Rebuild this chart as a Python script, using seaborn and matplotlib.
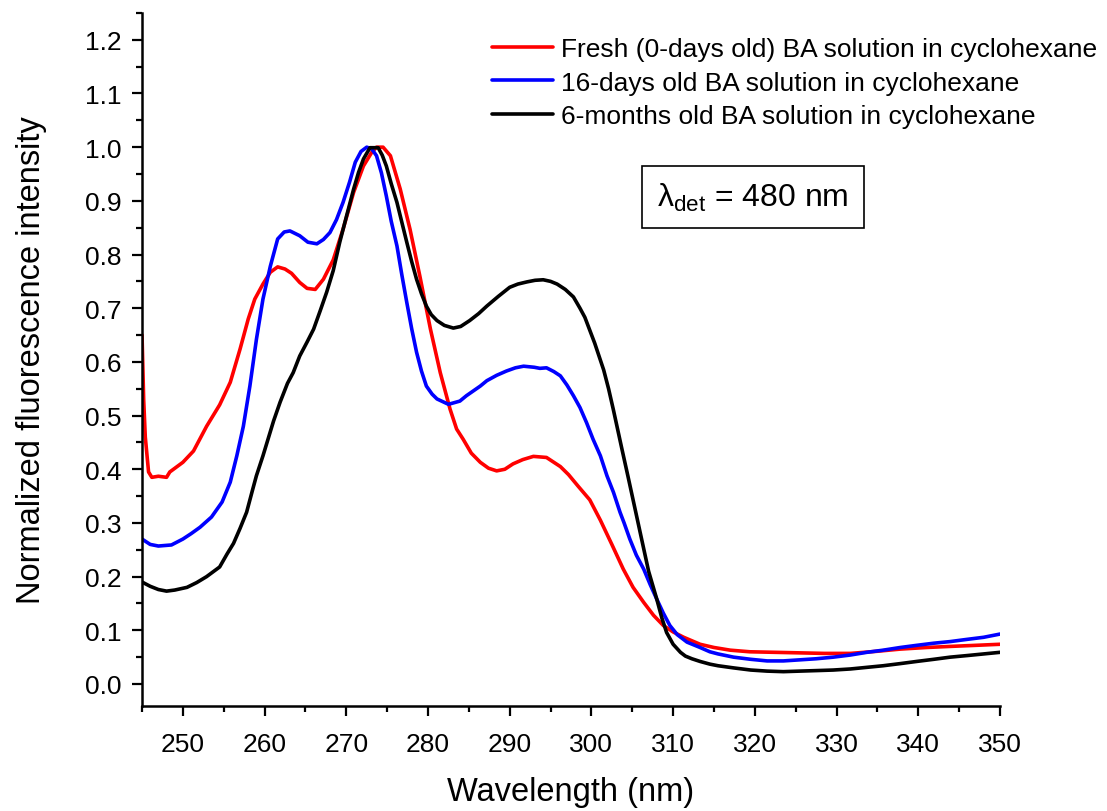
import pandas as pd
import matplotlib
matplotlib.use("Agg")
import matplotlib.pyplot as plt
from matplotlib.ticker import MultipleLocator, FormatStrFormatter
import seaborn as sns

fresh_x = [245.0, 245.2, 245.4, 245.8, 246.2, 247.0, 248.0, 248.4, 250.0, 251.3, 252.9, 254.5,
           255.8, 257.0, 258.0, 258.8, 259.8, 260.7, 261.6, 262.5, 263.3, 264.3, 265.2, 266.2,
           267.2, 268.4, 269.6, 270.9, 272.1, 273.1, 273.7, 274.5, 275.4, 276.6, 277.8, 279.0,
           280.3, 281.5, 282.7, 283.5, 284.3, 285.3, 286.4, 287.4, 288.4, 289.4, 290.4, 291.6,
           292.9, 294.5, 296.2, 297.2, 298.4, 299.8, 301.1, 302.5, 303.9, 305.1, 306.4, 307.6,
           308.8, 310.0, 311.3, 313.3, 315.0, 317.0, 319.4, 322.5, 325.5, 328.5, 331.7, 335.0,
           337.8, 341.0, 343.9, 347.0, 350.0]
fresh_y = [0.65, 0.53, 0.46, 0.395, 0.385, 0.387, 0.385, 0.395, 0.413, 0.434, 0.48, 0.52,
           0.562, 0.624, 0.68, 0.717, 0.745, 0.767, 0.777, 0.773, 0.765, 0.748, 0.737, 0.735,
           0.754, 0.79, 0.847, 0.916, 0.965, 0.99, 1.0, 1.0, 0.984, 0.922, 0.847, 0.76,
           0.661, 0.58, 0.512, 0.475, 0.456, 0.43, 0.413, 0.402, 0.397, 0.40, 0.41, 0.418,
           0.424, 0.422, 0.405, 0.39, 0.368, 0.343, 0.305, 0.26, 0.214, 0.18, 0.152, 0.128,
           0.109, 0.097, 0.087, 0.074, 0.068, 0.063, 0.06, 0.059, 0.058, 0.057, 0.057, 0.061,
           0.065, 0.068, 0.07, 0.072, 0.074]

days16_x = [245.0, 246.0, 247.0, 248.6, 250.0, 251.0, 252.1, 253.5, 254.8, 255.8, 256.6, 257.4,
            258.2, 259.0, 259.8, 260.7, 261.6, 262.4, 263.1, 264.3, 265.3, 266.4, 267.2, 268.0,
            268.8, 269.6, 270.4, 271.1, 271.8, 272.5, 273.1, 273.7, 274.3, 274.9, 275.5, 276.2,
            276.8, 277.4, 278.0, 278.6, 279.2, 279.8, 280.5, 281.1, 282.5, 283.9, 284.7, 286.4,
            287.2, 288.4, 289.6, 290.7, 291.7, 293.0, 293.7, 294.5, 295.4, 296.2, 297.0, 297.8,
            298.6, 299.4, 300.2, 301.1, 301.9, 302.7, 303.5, 304.0, 304.7, 305.5, 306.4, 307.2,
            308.0, 308.8, 309.6, 310.5, 311.7, 313.3, 314.5, 315.5, 317.4, 319.5, 321.5, 323.5,
            325.5, 327.5, 329.6, 331.7, 333.7, 335.7, 337.8, 339.8, 341.9, 343.9, 345.9, 348.0,
            350.0]
days16_y = [0.27, 0.26, 0.257, 0.259, 0.27, 0.28, 0.292, 0.311, 0.339, 0.376, 0.425, 0.48,
            0.555, 0.642, 0.717, 0.778, 0.829, 0.842, 0.844, 0.835, 0.823, 0.82, 0.828, 0.841,
            0.865, 0.897, 0.935, 0.972, 0.992, 1.0, 0.997, 0.984, 0.952, 0.909, 0.862, 0.816,
            0.762, 0.711, 0.662, 0.618, 0.583, 0.555, 0.54, 0.531, 0.521, 0.527, 0.537, 0.555,
            0.565, 0.575, 0.583, 0.589, 0.592, 0.59, 0.588, 0.589, 0.582, 0.574, 0.557, 0.537,
            0.515, 0.487, 0.456, 0.425, 0.388, 0.357, 0.32, 0.30, 0.27, 0.24, 0.214, 0.185,
            0.158, 0.132, 0.109, 0.092, 0.078, 0.068, 0.06, 0.056, 0.05, 0.046, 0.043, 0.043,
            0.045, 0.047, 0.05, 0.054, 0.059, 0.063, 0.068, 0.072, 0.076, 0.079, 0.083, 0.087,
            0.093]

months6_x = [245.0, 246.0, 247.0, 248.0, 249.0, 250.5, 251.7, 252.9, 254.5, 255.4, 256.2, 257.0,
             257.8, 258.5, 259.0, 259.8, 260.3, 261.1, 261.9, 262.8, 263.5, 264.3, 265.2, 266.0,
             266.8, 267.6, 268.4, 269.2, 270.0, 270.9, 271.5, 272.1, 272.9, 273.9, 274.4, 274.9,
             275.5, 276.2, 276.8, 277.4, 278.0, 278.6, 279.2, 279.8, 280.4, 281.1, 282.0, 283.1,
             284.0, 285.1, 286.2, 287.2, 288.6, 290.0, 291.0, 292.1, 293.1, 294.1, 295.0, 295.8,
             296.8, 297.8, 298.6, 299.2, 300.4, 301.5, 302.1, 302.7, 303.7, 304.5, 305.5, 306.0,
             307.0, 308.0, 308.6, 309.2, 310.0, 310.9, 311.5, 312.3, 313.3, 314.5, 315.5, 317.4,
             319.5, 321.5, 323.5, 325.5, 327.6, 329.6, 331.7, 333.7, 335.7, 337.8, 339.8, 341.9,
             343.9, 346.0, 348.0, 350.0]
months6_y = [0.19, 0.182, 0.176, 0.173, 0.175, 0.18, 0.189, 0.2, 0.218, 0.242, 0.262, 0.29,
             0.32, 0.36, 0.388, 0.425, 0.45, 0.49, 0.525, 0.56, 0.58, 0.611, 0.637, 0.661,
             0.695, 0.73, 0.77, 0.823, 0.87, 0.922, 0.953, 0.978, 0.999, 0.999, 0.985, 0.965,
             0.932, 0.897, 0.86, 0.823, 0.787, 0.754, 0.727, 0.704, 0.688, 0.677, 0.668, 0.663,
             0.666, 0.677, 0.69, 0.704, 0.722, 0.739, 0.745, 0.749, 0.752, 0.753, 0.75, 0.745,
             0.735, 0.721, 0.70, 0.683, 0.635, 0.585, 0.55, 0.51, 0.44, 0.385, 0.315, 0.28,
             0.21, 0.158, 0.124, 0.096, 0.074, 0.059, 0.052, 0.047, 0.042, 0.037, 0.034, 0.03,
             0.026, 0.024, 0.023, 0.024, 0.025, 0.026, 0.028, 0.031, 0.034, 0.038, 0.042, 0.046,
             0.05, 0.053, 0.056, 0.059]

labels = ["Fresh (0-days old) BA solution in cyclohexane",
          "16-days old BA solution in cyclohexane",
          "6-months old BA solution in cyclohexane"]
colors = ["#ff0000", "#0000ff", "#000000"]

frames = []
for lab, xs, ys in zip(labels, [fresh_x, days16_x, months6_x], [fresh_y, days16_y, months6_y]):
    frames.append(pd.DataFrame({"wavelength": xs, "intensity": ys, "sample": lab}))
df = pd.concat(frames, ignore_index=True)

sns.set_theme(style="ticks")
plt.rcParams["font.family"] = ["Liberation Sans", "DejaVu Sans"]
plt.rcParams["mathtext.fontset"] = "custom"
plt.rcParams["mathtext.rm"] = "Liberation Sans"
plt.rcParams["mathtext.it"] = "Liberation Sans"
plt.rcParams["text.color"] = "black"
plt.rcParams["axes.labelcolor"] = "black"

fig = plt.figure(figsize=(11.07, 8.12), dpi=100)
ax = fig.add_axes([0.1283, 0.1293, 0.775, 0.8535])

sns.lineplot(data=df, x="wavelength", y="intensity", hue="sample", hue_order=labels,
             palette=dict(zip(labels, colors)), estimator=None, sort=False,
             linewidth=2.6, ax=ax)

ax.set_xlim(245, 350)
ax.set_ylim(-0.041, 1.25)
ax.xaxis.set_major_locator(MultipleLocator(10))
ax.xaxis.set_minor_locator(MultipleLocator(5))
ax.yaxis.set_major_locator(MultipleLocator(0.1))
ax.yaxis.set_minor_locator(MultipleLocator(0.05))
ax.yaxis.set_major_formatter(FormatStrFormatter("%.1f"))

sns.despine(ax=ax)
for s in ["left", "bottom"]:
    ax.spines[s].set_linewidth(1.8)
    ax.spines[s].set_color("black")
ax.tick_params(which="major", direction="out", length=7, width=1.6, labelsize=19,
               colors="black")
ax.tick_params(which="minor", direction="out", length=4, width=1.6, colors="black")
ax.tick_params(axis="x", which="major", pad=12)
ax.tick_params(axis="y", which="major", pad=8)

ax.set_xlabel("Wavelength (nm)", fontsize=23.5, labelpad=14)
ax.set_ylabel("Normalized fluorescence intensity", fontsize=23.5, labelpad=27)

ax.legend(loc="upper left", bbox_to_anchor=(0.408, 0.965), frameon=False, fontsize=19,
          borderpad=0, borderaxespad=0, handlelength=2.3, handletextpad=0.3,
          labelspacing=0.36)

ax.text(0.712, 0.734, r"λ$_{\mathrm{det}}$ = 480 nm", transform=ax.transAxes,
        fontsize=23, ha="center", va="center",
        bbox=dict(boxstyle="square,pad=0.47", facecolor="white", edgecolor="black",
                  linewidth=1.2))

fig.savefig("out.png", dpi=100)
